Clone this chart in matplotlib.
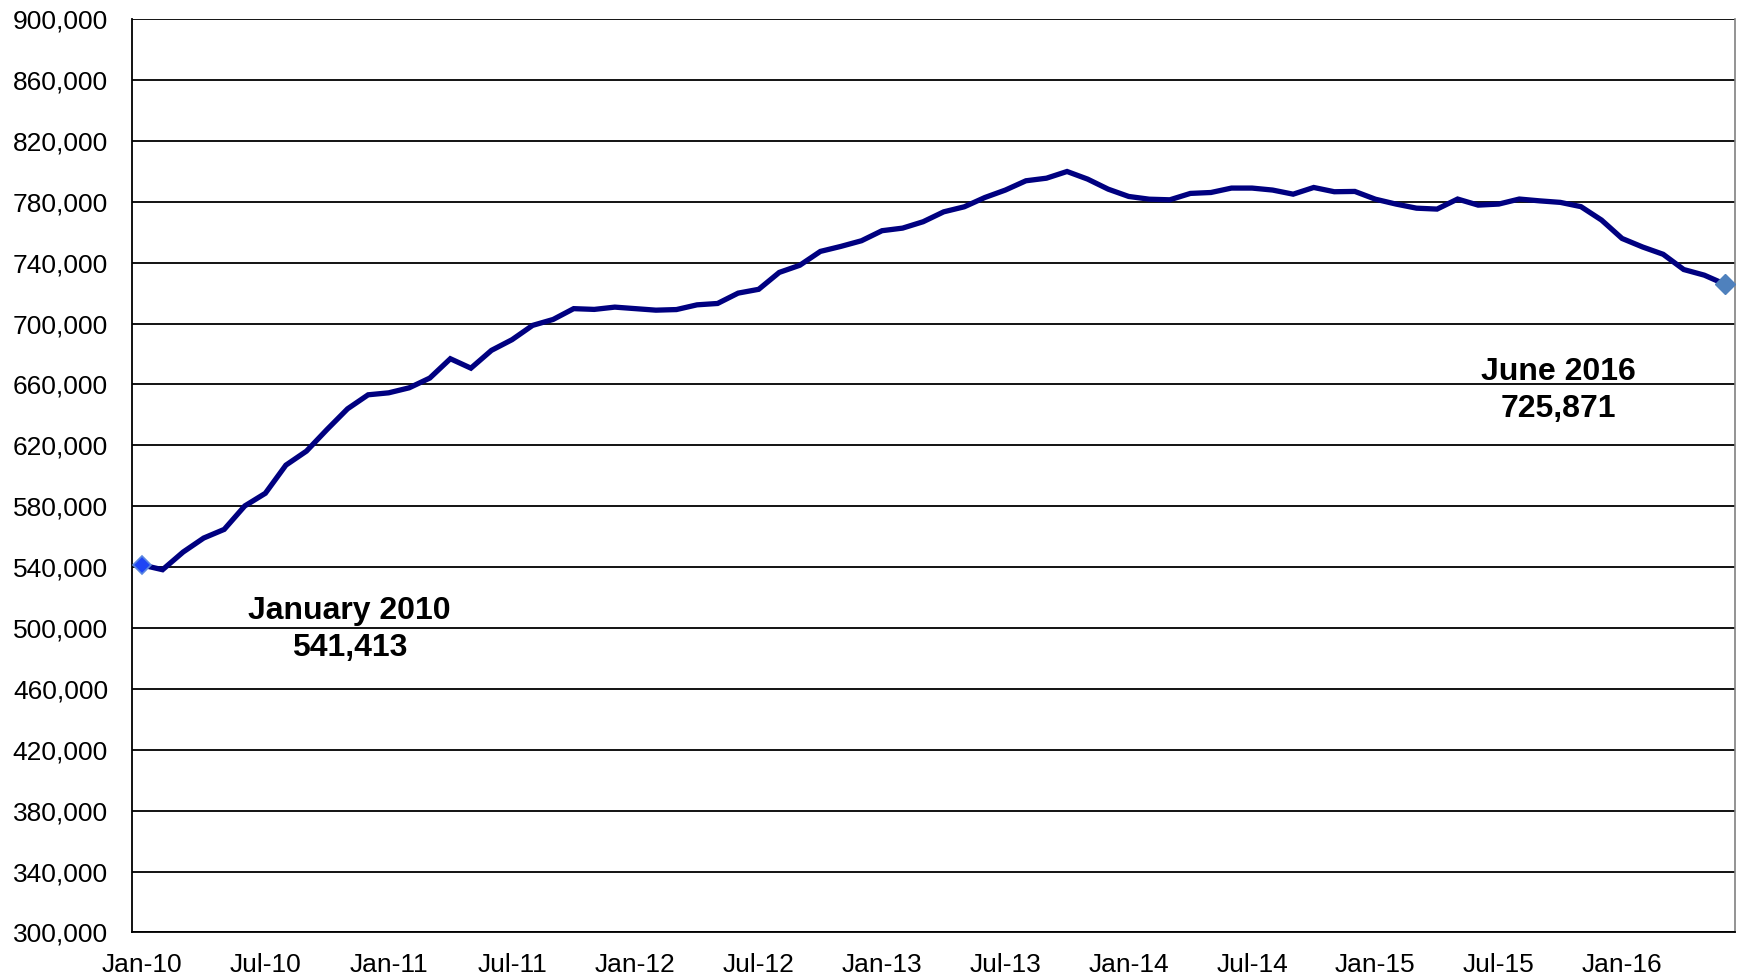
import numpy as np
import matplotlib
matplotlib.use("Agg")
import matplotlib.pyplot as plt
from matplotlib.ticker import FuncFormatter

plt.rcParams['font.family'] = ['Liberation Sans', 'DejaVu Sans']

# monthly totals, Jan 2010 .. Jun 2016
values = [541413, 538300, 549900, 559100, 564800, 580200, 588500, 607000,
          616200, 630400, 644000, 653200, 654500, 657800, 664200, 676900,
          670700, 682400, 689400, 698800, 702700, 709800, 709300, 710800,
          709800, 708800, 709200, 712300, 713200, 720000, 722500, 733600,
          738300, 747400, 750700, 754400, 761000, 762700, 766900, 773400,
          776700, 782800, 787700, 793800, 795500, 799900, 794900, 788300,
          783500, 781700, 781300, 785500, 786100, 789000, 789000, 787700,
          785000, 789400, 786600, 786800, 781700, 778500, 775800, 775200,
          781800, 777800, 778500, 781800, 780600, 779600, 776800, 768000,
          755900, 750300, 745500, 735500, 731800, 725871]
tick_labels = ['Jan-10', 'Jul-10', 'Jan-11', 'Jul-11', 'Jan-12', 'Jul-12',
               'Jan-13', 'Jul-13', 'Jan-14', 'Jul-14', 'Jan-15', 'Jul-15',
               'Jan-16']
start_label = 'January 2010'
end_label = 'June 2016'

x = np.arange(len(values))

fig = plt.figure(figsize=(17.4, 9.8), dpi=100)
ax = fig.add_axes([0.0757, 0.0485, 0.9215, 0.932])

ax.plot(x, values, color='#000080', lw=3.8, solid_joinstyle='miter', zorder=3)
ax.plot(x[0], values[0], marker='D', ms=9, color='#1f45f5',
        mec='#5a86e0', mew=1.2, zorder=4, clip_on=False)
ax.plot(x[-1], values[-1], marker='D', ms=10.5, color='#4f81bd',
        mec='#4f81bd', zorder=4, clip_on=False)

ax.set_xlim(-0.5, len(values) - 0.5)
ax.set_ylim(300000, 900000)
ax.set_yticks(np.arange(300000, 900001, 40000))
ax.yaxis.set_major_formatter(FuncFormatter(lambda v, p: f'{int(v):,}'))
ax.set_xticks(x[::6])
ax.set_xticklabels(tick_labels)

ax.grid(axis='y', color='black', lw=1.3)
ax.set_axisbelow(True)
ax.tick_params(axis='both', length=0, labelsize=19)
ax.tick_params(axis='y', pad=17)
ax.tick_params(axis='x', pad=15)

for s in ['left', 'bottom']:
    ax.spines[s].set_color('black')
    ax.spines[s].set_linewidth(1.3)
ax.spines['top'].set_visible(False)
ax.spines['right'].set_color('#808080')
ax.spines['right'].set_linewidth(1.2)

ax.text(10.1, 511000, start_label, ha='center', va='center',
        fontsize=23, fontweight='bold')
ax.text(10.1, 486700, f'{values[0]:,}', ha='center', va='center',
        fontsize=23, fontweight='bold')
ax.text(68.9, 668300, end_label, ha='center', va='center',
        fontsize=23, fontweight='bold')
ax.text(68.9, 644000, f'{values[-1]:,}', ha='center', va='center',
        fontsize=23, fontweight='bold')

fig.savefig('out.png', dpi=100, facecolor='white')
